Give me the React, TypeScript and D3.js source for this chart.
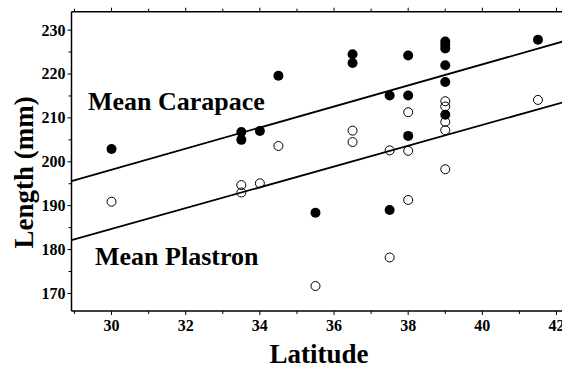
import React from 'react';
import * as d3 from 'd3';

// Mean carapace length (filled dots)
const carapaceLat = [30, 33.5, 33.5, 34, 34.5, 35.5, 36.5, 36.5, 37.5, 37.5, 38, 38, 38, 39, 39, 39, 39, 39, 39, 41.5];
const carapaceLen = [202.9, 206.8, 205.0, 207.0, 219.6, 188.4, 224.5, 222.5, 215.1, 189.0, 224.2, 215.1, 205.9, 227.4, 226.6, 225.8, 222.0, 218.2, 210.7, 227.8];

// Mean plastron length (open dots)
const plastronLat = [30, 33.5, 33.5, 34, 34.5, 35.5, 36.5, 36.5, 37.5, 37.5, 38, 38, 38, 39, 39, 39, 39, 39, 41.5];
const plastronLen = [190.9, 194.7, 193.0, 195.1, 203.6, 171.7, 207.1, 204.5, 202.6, 178.2, 211.3, 202.5, 191.3, 213.8, 212.6, 209.1, 207.2, 198.3, 214.1];

// regression fits: [intercept, slope]
const carapaceFit = [126.2, 2.4];
const plastronFit = [113.6, 2.37];

const xTicks = [30, 32, 34, 36, 38, 40, 42];
const yTicks = [170, 180, 190, 200, 210, 220, 230];

const W = 562;
const H = 368;
const FONT = '"Liberation Serif", "Times New Roman", serif';

export default function App() {
  const left = 71.5;
  const top = 11.7;
  const bottom = 311;
  const xDomain: [number, number] = [28.92, 43];
  const x = d3.scaleLinear().domain(xDomain).range([left, left + (xDomain[1] - xDomain[0]) * 37.08]);
  const y = d3.scaleLinear().domain([166, 234.2]).range([bottom, top]);

  const xMinor = d3.range(29, 44, 1);
  const yMinor = d3.range(170, 235, 5);

  const fitLine = (fit: number[]) =>
    d3.line<number>()
      .x(d => x(d))
      .y(d => y(fit[0] + fit[1] * d))(xDomain);

  return (
    <svg width={W} height={H} style={{ position: 'absolute', left: 0, top: 0, background: '#fff' }}
      fontFamily={FONT} fontWeight="bold">
      {/* frame */}
      <line x1={left} x2={W} y1={top} y2={top} stroke="#000" strokeWidth={1.5} />
      <line x1={left} x2={W} y1={bottom} y2={bottom} stroke="#000" strokeWidth={1.5} />
      <line x1={left} x2={left} y1={top} y2={bottom} stroke="#000" strokeWidth={1.5} />

      {/* x ticks, bottom and top */}
      {xMinor.map(t => (
        <g key={'xt' + t}>
          <line x1={x(t)} x2={x(t)} y1={bottom} y2={bottom + (t % 2 === 0 ? 4 : 3)} stroke="#000" />
          <line x1={x(t)} x2={x(t)} y1={top} y2={top - (t % 2 === 0 ? 4 : 3)} stroke="#000" />
        </g>
      ))}
      {xTicks.map(t => (
        <text key={'xl' + t} x={x(t)} y={331} textAnchor="middle" fontSize={16}>{t}</text>
      ))}

      {/* y ticks */}
      {yMinor.map(t => (
        <line key={'yt' + t} x1={left} x2={left - (t % 10 === 0 ? 4 : 3)} y1={y(t)} y2={y(t)} stroke="#000" />
      ))}
      {yTicks.map(t => (
        <text key={'yl' + t} x={65.5} y={y(t)} dy="0.34em" textAnchor="end" fontSize={16}>{t}</text>
      ))}

      {/* regression lines */}
      <path d={fitLine(carapaceFit) || ''} fill="none" stroke="#000" strokeWidth={1.8} />
      <path d={fitLine(plastronFit) || ''} fill="none" stroke="#000" strokeWidth={1.8} />

      {/* points */}
      {plastronLat.map((d, i) => (
        <circle key={'p' + i} cx={x(d)} cy={y(plastronLen[i])} r={4.5} fill="none" stroke="#000" strokeWidth={1} />
      ))}
      {carapaceLat.map((d, i) => (
        <circle key={'c' + i} cx={x(d)} cy={y(carapaceLen[i])} r={5} fill="#000" />
      ))}

      {/* annotations */}
      <text x={88} y={110} fontSize={26}>Mean Carapace</text>
      <text x={95} y={265} fontSize={26}>Mean Plastron</text>

      {/* axis titles */}
      <text x={319} y={363} textAnchor="middle" fontSize={27}>Latitude</text>
      <text transform="translate(33,172.5) rotate(-90)" textAnchor="middle" fontSize={27}>Length (mm)</text>
    </svg>
  );
}
